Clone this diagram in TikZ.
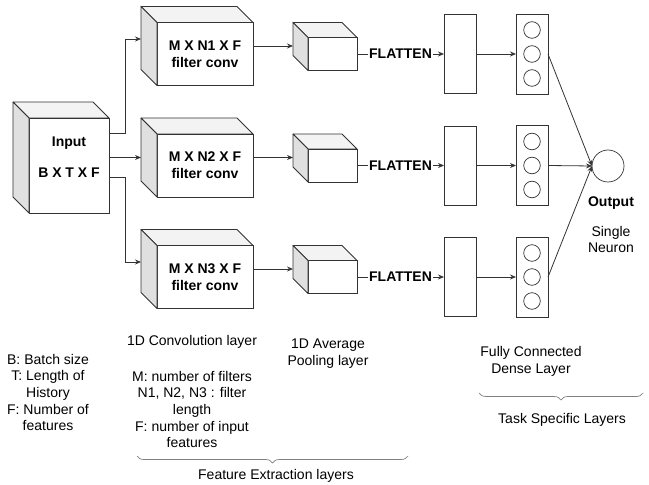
\documentclass[tikz,border=0pt]{standalone}
\usepackage{fontspec}
\setmainfont{Liberation Sans}
\usepackage{xcolor}
\usepackage{tikz}
\usetikzlibrary{arrows.meta,positioning,calc,decorations.pathreplacing}
\definecolor{lineGray}{HTML}{333333}
\definecolor{sideGray}{HTML}{E0E0E0}
\definecolor{topGray}{HTML}{F3F3F3}
\definecolor{braceGray}{HTML}{808080}
% top and left faces behind a front face node
\newcommand{\cubeback}[2]{%
  \draw[cubeline, fill=topGray] (#1.north west) -- ++(-#2,-#2) -- ($(#1.north east)+(-#2,-#2)$) -- (#1.north east) -- cycle;
  \draw[cubeline, fill=sideGray] (#1.north west) -- ++(-#2,-#2) -- ($(#1.south west)+(-#2,-#2)$) -- (#1.south west) -- cycle;}

\begin{document}
\begin{tikzpicture}[x=1bp, y=-1bp, font=\fontsize{14bp}{16.7bp}\selectfont,
    cubeline/.style={draw=lineGray, line width=0.8bp, line join=round},
    front/.style={draw=lineGray, line width=0.8bp, fill=white, outer sep=0pt, inner sep=0pt, align=center, font=\fontsize{14bp}{17bp}\selectfont\bfseries},
    plainbox/.style={draw=lineGray, line width=0.8bp, fill=white, outer sep=0pt, inner sep=0pt},
    unit/.style={circle, draw=lineGray, line width=0.7bp, minimum size=16.6bp, inner sep=0pt, outer sep=0pt},
    arr/.style={-{Stealth[length=6bp,width=5bp]}, draw=lineGray, line width=0.8bp},
    flat/.style={fill=white, inner sep=1.5bp, font=\fontsize{14bp}{16.7bp}\selectfont\bfseries},
    txt/.style={align=center, inner sep=0pt},
    brc/.style={decorate, decoration={brace, mirror, amplitude=7bp}, draw=braceGray, line width=0.7bp}]
  \useasboundingbox (0,0) rectangle (649,485);

  % input cube
  \node[front, minimum width=80bp, minimum height=95bp] (in) at (69,165.5) {};
  \cubeback{in}{16}
  \node[txt, font=\fontsize{14bp}{16.7bp}\selectfont\bfseries] (intxt) at (69,157.5) {Input\\[14bp]B X T X F};

  % convolution cubes
  \node[front, minimum width=96bp, minimum height=63bp] (c1) at (205,54) {M X N1 X F\\filter conv};
  \node[front, minimum width=96bp, minimum height=63bp] (c2) at (205,165.5) {M X N2 X F\\filter conv};
  \node[front, minimum width=96bp, minimum height=63bp] (c3) at (205,277) {M X N3 X F\\filter conv};
  \cubeback{c1}{16}
  \cubeback{c2}{16}
  \cubeback{c3}{16}

  % pooling cubes
  \node[plainbox, minimum width=49bp, minimum height=33bp] (p1) at (332.5,54) {};
  \node[plainbox, minimum width=49bp, minimum height=33bp] (p2) at (332.5,165.5) {};
  \node[plainbox, minimum width=49bp, minimum height=33bp] (p3) at (332.5,277) {};
  \cubeback{p1}{15}
  \cubeback{p2}{15}
  \cubeback{p3}{15}

  % flattened vectors
  \node[plainbox, minimum width=32bp, minimum height=79bp] (d1) at (460,54) {};
  \node[plainbox, minimum width=32bp, minimum height=79bp] (d2) at (460,165.5) {};
  \node[plainbox, minimum width=32bp, minimum height=79bp] (d3) at (460,277) {};

  % dense layers
  \node[plainbox, minimum width=32bp, minimum height=80bp] (n1) at (532,54) {};
  \node[plainbox, minimum width=32bp, minimum height=80bp] (n2) at (532,165.5) {};
  \node[plainbox, minimum width=32bp, minimum height=80bp] (n3) at (532,277) {};
  \node[unit] (n1a) at ($(n1)+(0,-24)$) {};
  \node[unit] (n1b) at (n1) {};
  \node[unit] (n1c) at ($(n1)+(0,24)$) {};
  \node[unit] (n2a) at ($(n2)+(0,-24)$) {};
  \node[unit] (n2b) at (n2) {};
  \node[unit] (n2c) at ($(n2)+(0,24)$) {};
  \node[unit] (n3a) at ($(n3)+(0,-24)$) {};
  \node[unit] (n3b) at (n3) {};
  \node[unit] (n3c) at ($(n3)+(0,24)$) {};

  % output neuron
  \node[unit, minimum size=32bp] (out) at (608,166) {};
  \node[txt, font=\fontsize{14bp}{16.7bp}\selectfont\bfseries] (outlbl) at (611,203) {Output};
  \node[txt] (neuronlbl) at (611,239.5) {Single\\Neuron};

  % connectors
  \draw[arr] ($(in.north east)+(0,15)$) -- ++(16,0) |- ($(c1.west)+(-16,-15)$);
  \draw[arr] ($(in.east)+(0,-8)$) -- ($(c2.west)+(-16,-8)$);
  \draw[arr] ($(in.east)+(0,11.5)$) -- ++(16,0) |- ($(c3.west)+(-16,-15)$);
  \draw[arr] ($(c1.east)+(0,-8)$) -- ($(p1.west)+(-15,-8)$);
  \draw[arr] ($(c2.east)+(0,-8)$) -- ($(p2.west)+(-15,-8)$);
  \draw[arr] ($(c3.east)+(0,-8)$) -- ($(p3.west)+(-15,-8)$);
  \draw[arr] (p1.east) -- node[flat] (f1) {FLATTEN} (d1.west);
  \draw[arr] (p2.east) -- node[flat] (f2) {FLATTEN} (d2.west);
  \draw[arr] (p3.east) -- node[flat] (f3) {FLATTEN} (d3.west);
  \draw[arr] (d1.east) -- (n1.west);
  \draw[arr] (d2.east) -- (n2.west);
  \draw[arr] (d3.east) -- (n3.west);
  \draw[arr] (n1.east) -- (out.west);
  \draw[arr] (n2.east) -- (out.west);
  \draw[arr] (n3.east) -- (out.west);

  % captions
  \node[txt] (legend) at (48,392.5) {B: Batch size\\T: Length of\\History\\F: Number of\\features};
  \node[txt] (convlbl) at (192,342) {1D Convolution layer};
  \node[txt] (convnote) at (192,409.5) {M: number of filters\\N1, N2, N3 : filter\\length\\F: number of input\\features};
  \node[txt] (poollbl) at (328,353.5) {1D Average\\Pooling layer};
  \node[txt] (fclbl) at (531,361.5) {Fully Connected\\Dense Layer};
  \draw[brc] (479,393) -- (643,393);
  \node[txt] (tasklbl) at (562,420) {Task Specific Layers};
  \draw[brc] (137,456) -- (408,456);
  \node[txt] (featlbl) at (276,476) {Feature Extraction layers};
\end{tikzpicture}
\end{document}
